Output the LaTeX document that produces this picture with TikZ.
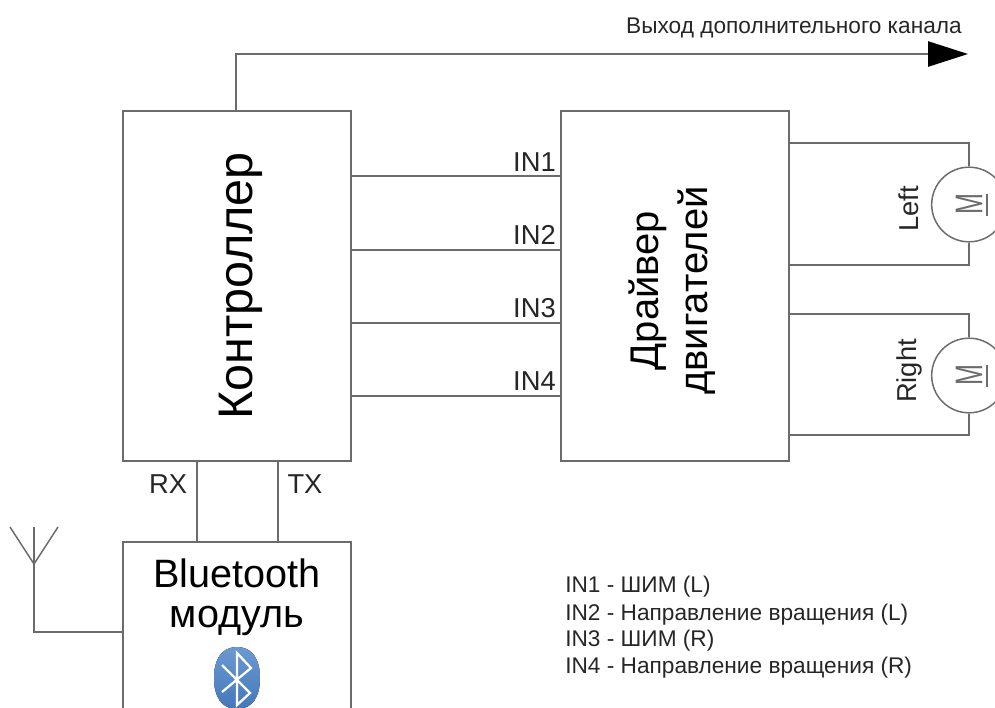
\documentclass[tikz,border=0pt]{standalone}
\usepackage{graphicx}
\usepackage{fontspec}
\setmainfont{Liberation Sans}
\usetikzlibrary{arrows.meta}
\definecolor{wiregray}{rgb}{0.42,0.42,0.42}
\definecolor{btblue}{rgb}{0.27,0.47,0.73}
\definecolor{btlight}{rgb}{0.42,0.60,0.82}
\tikzset{
    box/.style={draw=wiregray, line width=1.1pt, fill=white, inner sep=0pt, minimum width=171pt},
    wire/.style={draw=wiregray, line width=1.1pt},
    motor/.style={circle, draw=wiregray, line width=1.1pt, fill=white, inner sep=0pt, minimum size=56pt},
    pinlabel/.style={font=\fontsize{20.5}{20.5}\selectfont, inner sep=0pt, text=black!85},
    legend/.style={anchor=west, inner sep=0pt, font=\fontsize{17}{17}\selectfont, text=black!85}
}
\newcommand{\motorletter}{\rotatebox{90}{\scalebox{0.65}[1]{\fontsize{29}{29}\selectfont\textcolor{wiregray}{M}}}}
\begin{document}
\begin{tikzpicture}[x=0.75pt, y=-0.75pt]
    \useasboundingbox (0,0) rectangle (995,707);
    \clip (0,0) rectangle (995,707);

    % 1. Draw the blocks
    \node[box, minimum height=262.5pt] (ctrl) at (237,286)
        {\hspace*{6pt}\rotatebox{90}{\fontsize{36.4}{36.4}\selectfont Контроллер}};
    \node[box, minimum height=262.5pt] (driver) at (675,286) {};
    \node[rotate=90, align=center, inner sep=0pt, font=\fontsize{30}{37}\selectfont] (drivername) at (672,290.5)
        {Драйвер\\двигателей};
    \node[box, minimum height=165pt] (bt) at (237,652) {};
    \node[inner sep=0pt, font=\fontsize{29.7}{29.7}\selectfont] (btname) at (237,573) {Bluetooth};
    \node[inner sep=0pt, font=\fontsize{29.7}{29.7}\selectfont] (btname2) at (237,621) {модуль};

    % 2. Bluetooth logo
    \fill[top color=btlight, bottom color=btblue] (237,647)
        .. controls (253,647) and (260,660) .. (260,678)
        .. controls (260,696) and (253,709) .. (237,709)
        .. controls (221,709) and (214,696) .. (214,678)
        .. controls (214,660) and (221,647) .. (237,647) -- cycle;
    \draw[white, line width=1.7pt] (222,665) -- (250,693) -- (237,705) -- (237,653) -- (251,668) -- (222,692);

    % 3. Signal lines
    \coordinate (in1) at (561,176);
    \coordinate (in2) at (561,250);
    \coordinate (in3) at (561,323);
    \coordinate (in4) at (561,396);
    \draw[wire] (in1 -| ctrl.east) -- (in1);
    \draw[wire] (in2 -| ctrl.east) -- (in2);
    \draw[wire] (in3 -| ctrl.east) -- (in3);
    \draw[wire] (in4 -| ctrl.east) -- (in4);
    \node[pinlabel, anchor=south east] (lin1) at (556,172) {IN1};
    \node[pinlabel, anchor=south east] (lin2) at (556,245) {IN2};
    \node[pinlabel, anchor=south east] (lin3) at (556,318) {IN3};
    \node[pinlabel, anchor=south east] (lin4) at (556,391) {IN4};

    % 4. UART between the module and the controller
    \coordinate (rxpin) at (197,461);
    \coordinate (txpin) at (278,461);
    \draw[wire] (rxpin) -- (rxpin |- bt.north);
    \draw[wire] (txpin) -- (txpin |- bt.north);
    \node[pinlabel] (rx) at (168,484) {RX};
    \node[pinlabel] (tx) at (305,484) {TX};

    % 5. Antenna
    \coordinate (antbase) at (34,564);
    \coordinate (antl) at (10,527);
    \coordinate (antm) at (34,527);
    \coordinate (antr) at (58,527);
    \coordinate (btport) at (123,632);
    \draw[wire] (btport) -- (antbase |- btport) -- (antbase);
    \draw[wire] (antl) -- (antbase) -- (antr);
    \draw[wire] (antm) -- (antbase);

    % 6. Motors
    \node[motor] (mleft) at (969,204.5) {\motorletter};
    \node[motor] (mright) at (969,375.5) {\motorletter};
    \draw[wire, line width=0.8pt] ([shift={(18,-11)}]mleft.center) -- ([shift={(18,11)}]mleft.center);
    \draw[wire, line width=0.8pt] ([shift={(18,-11)}]mright.center) -- ([shift={(18,11)}]mright.center);
    \coordinate (la) at (789,143);
    \coordinate (lb) at (789,265);
    \coordinate (ra) at (789,314);
    \coordinate (rb) at (789,435);
    \draw[wire] (la) -| (mleft.north);
    \draw[wire] (lb) -| (mleft.south);
    \draw[wire] (ra) -| (mright.north);
    \draw[wire] (rb) -| (mright.south);
    \node[pinlabel, rotate=90] (lleft) at (909,209) {Left};
    \node[pinlabel, rotate=90] (lright) at (909,371) {Right};

    % 7. Extra channel output
    \coordinate (outtip) at (968,54);
    \draw[wire, -{Triangle[length=30pt, width=19pt, color=black]}] (236,111) |- (outtip);
    \node[legend, anchor=east] (outlabel) at (962,28) {Выход дополнительного канала};

    % 8. Legend
    \node[legend] (leg1) at (565,587) {IN1 - ШИМ (L)};
    \node[legend] (leg2) at (565,615) {IN2 - Направление вращения (L)};
    \node[legend] (leg3) at (565,641) {IN3 - ШИМ (R)};
    \node[legend] (leg4) at (565,668) {IN4 - Направление вращения (R)};
\end{tikzpicture}
\end{document}
